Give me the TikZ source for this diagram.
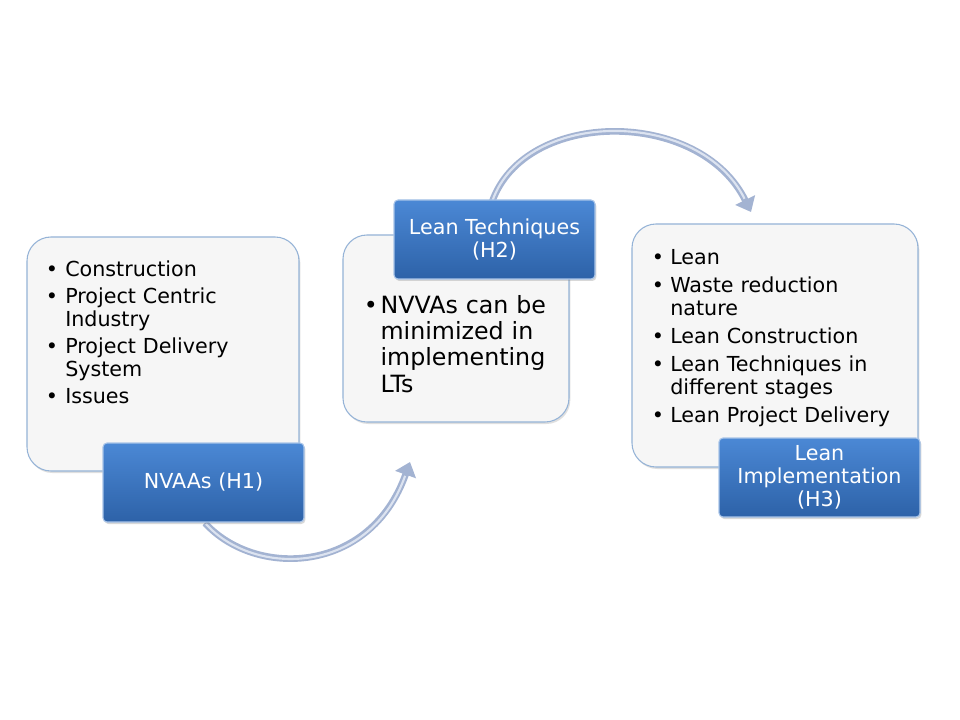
\documentclass[tikz,border=0pt]{standalone}
\usepackage{fontspec}
\setmainfont{DejaVu Sans}
\usetikzlibrary{shadows,arrows.meta}
\definecolor{lbord}{HTML}{95B3D7}
\definecolor{lfill}{HTML}{F6F6F6}
\definecolor{btop}{HTML}{4B88D5}
\definecolor{bbot}{HTML}{2D62A8}
\definecolor{bedge}{HTML}{A8C4E8}
\definecolor{aout}{HTML}{A3B3D2}
\definecolor{ain}{HTML}{DCE3F0}
\newlength\bhang
\newcommand\bitem[1]{\par\leftskip=\bhang\noindent\llap{\makebox[\bhang][l]{\hspace{-1pt}•}}#1}
\newcommand\fa{\fontsize{15.5}{17.25}\selectfont}
\newcommand\fb{\fontsize{17.8}{19.5}\selectfont}
\tikzset{
  lightbox/.style={draw=lbord, line width=0.8pt, fill=lfill, rounded corners=18pt,
    drop shadow={shadow xshift=1pt,shadow yshift=-1.5pt,opacity=0.25}, inner sep=0pt},
  bluebox/.style={draw=bedge, line width=0.8pt, top color=btop, bottom color=bbot,
    rounded corners=3pt, drop shadow={shadow xshift=1pt,shadow yshift=-1.5pt,opacity=0.3},
    text=white, align=center, font=\fa, inner sep=0pt,
    minimum width=150.75pt, minimum height=59.25pt},
  listtext/.style={anchor=base west, inner sep=0pt, text width=250pt},
  arrowout/.style={aout, line width=5pt, -{Triangle[length=10pt,width=16pt]}},
  arrowin/.style={ain, line width=1.6pt, shorten >=11pt, shorten <=1pt},
}
\begin{document}
\begin{tikzpicture}[x=0.75pt,y=-0.75pt]
\useasboundingbox (0,0) rectangle (960,720);
\fill[white] (0,0) rectangle (960,720);

% connector coordinates
\coordinate (a1s) at (205,523);
\coordinate (a1e) at (410,462);
\coordinate (a2s) at (492,202);
\coordinate (a2e) at (751,212);

\draw[arrowout] (a1s) .. controls (255,578) and (370,575) .. (a1e);
\draw[arrowin] (a1s) .. controls (255,578) and (370,575) .. (a1e);
\draw[arrowout] (a2s) .. controls (525,108) and (700,108) .. (a2e);
\draw[arrowin] (a2s) .. controls (525,108) and (700,108) .. (a2e);

% light boxes
\node[lightbox, minimum width=204pt, minimum height=175.5pt] (l1) at (163,354) {};
\node[lightbox, minimum width=169.5pt, minimum height=140.25pt] (l2) at (456,328.5) {};
\node[lightbox, minimum width=214.5pt, minimum height=182.25pt] (l3) at (775,345.5) {};

% list texts
\node[listtext, font=\fa] (t1) at (47,250) {\setlength\parskip{3pt}\setlength\bhang{13.5pt}%
  \bitem{Construction}\bitem{Project Centric\newline Industry}\bitem{Project Delivery\newline System}\bitem{Issues}\par};
\node[listtext, font=\fb] (t2) at (365,288) {\setlength\bhang{11.5pt}%
  \bitem{NVVAs can be\newline minimized in\newline implementing\newline LTs}\par};
\node[listtext, font=\fa] (t3) at (653,237) {\setlength\parskip{3.75pt}\setlength\bhang{12.75pt}%
  \bitem{Lean}\bitem{Waste reduction\newline nature}\bitem{Lean Construction}\bitem{Lean Techniques in\newline different stages}\bitem{Lean Project Delivery}\par};

% blue boxes
\node[bluebox] (b1) at (203.5,482.5) {NVAAs (H1)};
\node[bluebox] (b2) at (494.5,239.5) {Lean Techniques\\(H2)};
\node[bluebox] (b3) at (819.5,477.5) {Lean\\Implementation\\(H3)};
\end{tikzpicture}
\end{document}
